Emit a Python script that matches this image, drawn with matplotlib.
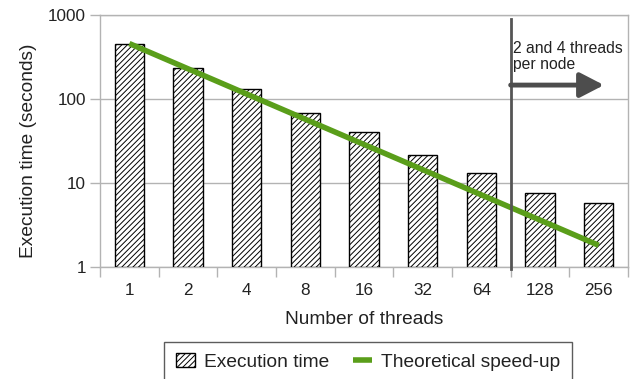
import matplotlib
matplotlib.use("Agg")
import matplotlib.pyplot as plt
import numpy as np

plt.rcParams['font.family'] = ['Liberation Sans', 'DejaVu Sans']
plt.rcParams['hatch.linewidth'] = 0.7

threads = ["1", "2", "4", "8", "16", "32", "64", "128", "256"]
exec_time = [460, 237, 131, 68, 40, 21.3, 13.0, 7.5, 5.8]
theoretical = [460, 230, 115, 57.5, 28.75, 14.4, 7.2, 3.6, 1.8]
yticks = [1, 10, 100, 1000]

fig = plt.figure(figsize=(6.34, 3.79), dpi=100)
ax = fig.add_axes([100/634, 1-266.7/379, 528/634, (266.7-15.3)/379])

x = np.arange(len(threads))
base = 1
bars = ax.bar(x, np.array(exec_time) - base, width=0.5, bottom=base, color='white',
              edgecolor='black', hatch='//////', linewidth=1.0, label='Execution time', zorder=3)
line, = ax.plot(x, theoretical, color='#5a9e1a', linewidth=4, label='Theoretical speed-up',
                zorder=4, solid_capstyle='butt')

ax.set_yscale('log')
ax.set_ylim(1, 1000)
ax.set_xlim(-0.5, len(threads) - 0.5)
ax.set_yticks(yticks)
ax.set_yticklabels([str(t) for t in yticks])
ax.yaxis.set_minor_locator(matplotlib.ticker.NullLocator())
ax.set_xticks(x)
ax.set_xticklabels(threads)
ax.set_xticks(np.arange(len(threads) + 1) - 0.5, minor=True)
ax.tick_params(axis='x', which='major', length=0, pad=12, labelsize=12.3, colors='#222222')
ax.tick_params(axis='x', which='minor', length=7, width=1, color='#b3b3b3')
ax.tick_params(axis='y', which='major', length=7, width=1, color='#b3b3b3', labelsize=12.3,
               labelcolor='#222222', pad=3)
ax.grid(axis='y', which='major', color='#b3b3b3', linewidth=1, zorder=0)
for s in ax.spines.values():
    s.set_color('#b3b3b3')
    s.set_linewidth(1)

ax.set_ylabel('Execution time (seconds)', fontsize=13.8, color='#222222')
ax.yaxis.set_label_coords(-0.119, 0.462)
ax.set_xlabel('Number of threads', fontsize=13.8, color='#222222', labelpad=9)

# separator and annotation
ax.axvline(6.5, ymin=-0.01, ymax=0.985, color='#555555', linewidth=2, zorder=5, clip_on=False)
ax.annotate('', xy=(8.09, 147), xytext=(6.5, 147),
            arrowprops=dict(arrowstyle='-|>,head_length=1.45,head_width=0.75', color='#4d4d4d',
                            lw=3.5, shrinkA=0, shrinkB=0), zorder=6)
ax.text(6.54, 490, '2 and 4 threads\nper node', fontsize=11.3, color='#222222',
        va='top', ha='left', linespacing=1.1, zorder=6)

leg = fig.legend(handles=[bars, line], labels=['Execution time', 'Theoretical speed-up'],
                 loc='upper left', bbox_to_anchor=(164/634, 1-342/379), ncol=2,
                 frameon=True, fancybox=False, edgecolor='#333333', fontsize=13.8,
                 borderpad=0.6, borderaxespad=0, columnspacing=1.2, handlelength=1.0,
                 handletextpad=0.5, labelcolor='#222222')
leg.get_frame().set_linewidth(1)

fig.savefig('out.png', dpi=100)
